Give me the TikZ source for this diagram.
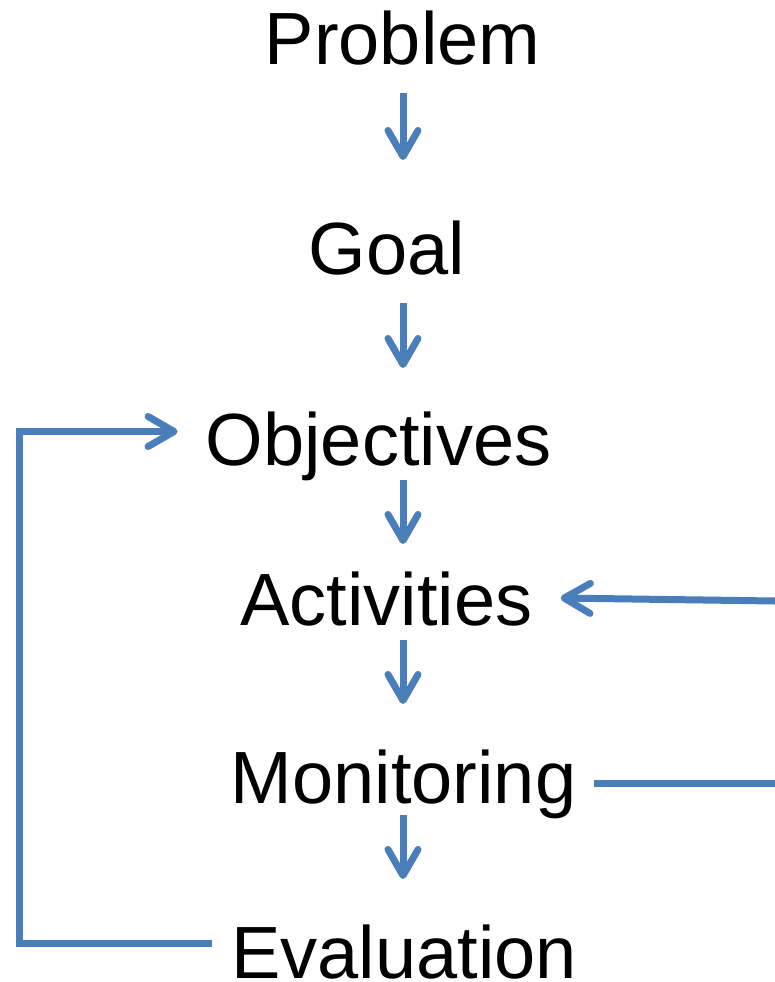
\documentclass[tikz,border=0pt]{standalone}
\usepackage{fontspec}
\setmainfont{Liberation Sans}
\usetikzlibrary{arrows.meta,calc}
\definecolor{lineblue}{RGB}{74,126,187}
\begin{document}
\begin{tikzpicture}[x=1pt,y=-1pt,
  lbl/.style={anchor=base,inner sep=0pt,font=\fontsize{74}{80}\selectfont},
  conn/.style={draw=lineblue,line width=7pt},
  arr/.style={conn,-{Straight Barb[length=26pt,width=30pt,round]}}]
\useasboundingbox (0,0) rectangle (775,982);
\coordinate (ax) at (403,0);
\coordinate (lx) at (19,0);
\node[lbl] (prob) at (402.5,65) {Problem};
\node[lbl] (goal) at (387,274) {Goal};
\node[lbl] (obj) at (378.5,465) {Objectives};
\node[lbl] (act) at (386.5,625) {Activities};
\node[lbl] (mon) at (403.5,803) {Monitoring};
\node[lbl] (eval) at (404,978) {Evaluation};
\coordinate (rtop) at (775,601);
\coordinate (rbot) at (775,783);
\draw[arr] ($(ax |- prob.base)+(0,28)$) -- ($(ax |- goal.base)+(0,-114)$);
\draw[arr] ($(ax |- goal.base)+(0,29)$) -- ($(ax |- obj.base)+(0,-97)$);
\draw[arr] ($(ax |- obj.base)+(0,15)$) -- ($(ax |- act.base)+(0,-81)$);
\draw[arr] ($(ax |- act.base)+(0,15)$) -- ($(ax |- mon.base)+(0,-99)$);
\draw[arr] ($(ax |- mon.base)+(0,12)$) -- ($(ax |- eval.base)+(0,-99)$);
\draw[arr] ($(eval.base west)+(-19,-35)$) -| ($(lx |- obj.base)+(0,-33.5)$) -- ($(obj.base west)+(-28,-33.5)$);
\draw[conn] ($(mon.base east)+(18,-20)$) -- (rbot);
\draw[arr] (rtop) -- ($(act.base east)+(28,-27)$);
\end{tikzpicture}
\end{document}
